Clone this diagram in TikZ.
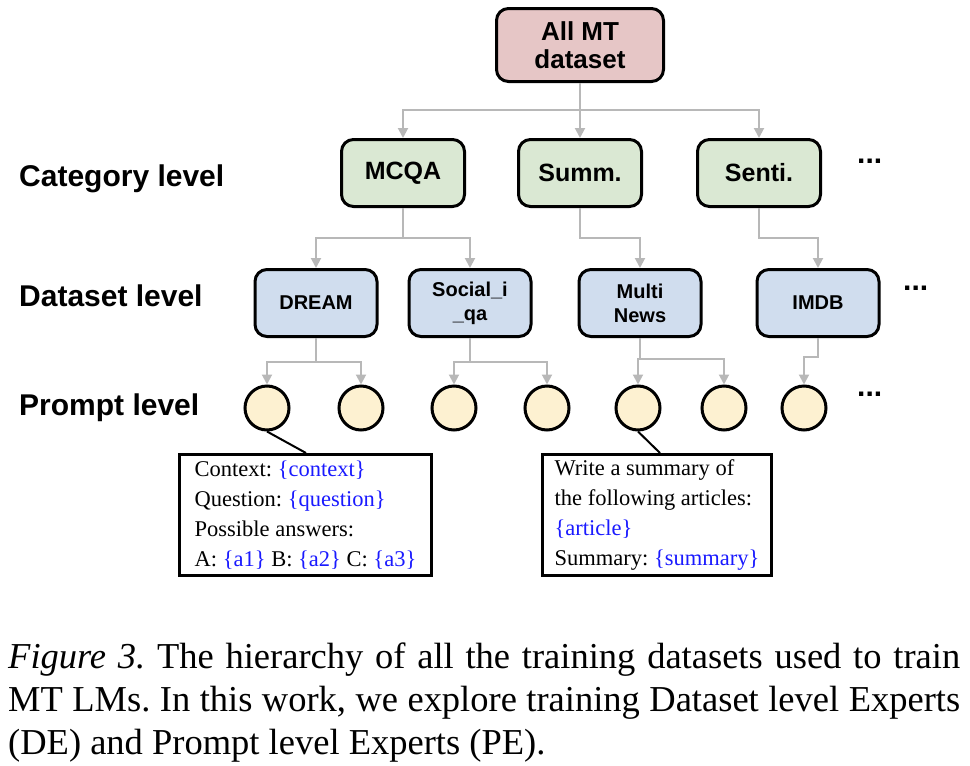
\documentclass[tikz,border=0pt]{standalone}
\usepackage{fontspec}
\setmainfont{Liberation Serif}
\setsansfont{Liberation Sans}
\usetikzlibrary{arrows.meta,calc}
\definecolor{pinkfill}{HTML}{E6C6C6}
\definecolor{greenfill}{HTML}{DAE8D3}
\definecolor{bluefill}{HTML}{D0DDEE}
\definecolor{yellowfill}{HTML}{FDF1D1}
\definecolor{connc}{HTML}{B8B8B8}
\definecolor{tblue}{HTML}{1A1AFF}
\frenchspacing
\begin{document}
\begin{tikzpicture}[x=1pt,y=-1pt,
  rootbox/.style={draw, line width=3pt, rounded corners=12pt, fill=pinkfill,
    minimum width=167pt, minimum height=73pt, align=center, inner sep=0pt,
    font=\sffamily\bfseries\fontsize{26}{28}\selectfont},
  catbox/.style={draw, line width=3pt, rounded corners=12pt, fill=greenfill,
    minimum width=123pt, minimum height=67pt, align=center, inner sep=0pt,
    font=\sffamily\bfseries\fontsize{25}{28}\selectfont},
  dsbox/.style={draw, line width=3pt, rounded corners=12pt, fill=bluefill,
    minimum width=122pt, minimum height=67pt, align=center, inner sep=0pt,
    font=\sffamily\bfseries\fontsize{20}{24}\selectfont},
  prm/.style={draw, circle, line width=3pt, fill=yellowfill, minimum size=44pt, inner sep=0pt},
  arr/.style={draw=connc, line width=2pt, -{Triangle[length=10pt,width=10pt]}},
  callout/.style={draw=black, line width=2pt},
  lvl/.style={anchor=base west, inner sep=0pt, font=\sffamily\bfseries\fontsize{30}{32}\selectfont},
  dotsty/.style={anchor=base west, inner sep=0pt, font=\sffamily\bfseries\fontsize{30}{32}\selectfont},
  tmpl/.style={draw, line width=3pt, fill=white, align=left, inner sep=0pt,
    minimum height=121pt, font=\fontsize{22.5}{30}\selectfont}
]
\useasboundingbox (0,0) rectangle (970,766);

% level labels
\node[lvl] (lcat) at (19,186) {Category level};
\node[lvl] (lds) at (19,306) {Dataset level};
\node[lvl] (lpr) at (19,415) {Prompt level};

% root
\node[rootbox] (root) at (580,45) {All MT\\dataset};

% categories
\node[catbox] (mcqa) at (403,173) {MCQA};
\node[catbox] (summ) at (580,173) {Summ.};
\node[catbox] (senti) at (759,173) {Senti.};
\node[dotsty] (dots1) at (857,163) {...};

% datasets
\node[dsbox] (dream) at (316,303) {DREAM};
\node[dsbox] (social) at (470,303) {Social\_i\\\_qa};
\node[dsbox] (multi) at (640,303) {Multi\\News};
\node[dsbox] (imdb) at (818,303) {IMDB};
\node[dotsty] (dots2) at (903,290) {...};

% prompts
\node[prm] (p1) at (267,408) {};
\node[prm] (p2) at (361,408) {};
\node[prm] (p3) at (454,408) {};
\node[prm] (p4) at (547,408) {};
\node[prm] (p5) at (638,408) {};
\node[prm] (p6) at (724,408) {};
\node[prm] (p7) at (804,408) {};
\node[dotsty] (dots3) at (857,396) {...};

% connectors root -> categories
\draw[arr] (root.south) -- ++(0,27) -| (mcqa.north);
\draw[arr] (root.south) -- (summ.north);
\draw[arr] (root.south) -- ++(0,27) -| (senti.north);

% categories -> datasets
\draw[arr] (mcqa.south) -- ++(0,30) -| (dream.north);
\draw[arr] (mcqa.south) -- ++(0,30) -| (social.north);
\draw[arr] (summ.south) -- ++(0,30) -| (multi.north);
\draw[arr] (senti.south) -- ++(0,30) -| (imdb.north);

% datasets -> prompts
\draw[arr] (dream.south) -- ++(0,24) -| (p1.north);
\draw[arr] (dream.south) -- ++(0,24) -| (p2.north);
\draw[arr] (social.south) -- ++(0,24) -| (p3.north);
\draw[arr] (social.south) -- ++(0,24) -| (p4.north);
\draw[arr] (multi.south) -- ++(0,21) -| (p5.north);
\draw[arr] (multi.south) -- ++(0,21) -| (p6.north);
\draw[arr] (imdb.south) -- ++(0,19) -| (p7.north);

% template boxes
\node[tmpl, minimum width=252pt] (lbox) at (305.5,515)
  {Context: \textcolor{tblue}{\{context\}}\\
   Question: \textcolor{tblue}{\{question\}}\\
   Possible answers:\\
   A: \textcolor{tblue}{\{a1\}} B: \textcolor{tblue}{\{a2\}} C: \textcolor{tblue}{\{a3\}}};
\node[tmpl, minimum width=229pt] (rbox) at (657,515)
  {Write a summary of\\
   the following articles:\\
   \textcolor{tblue}{\{article\}}\\
   Summary: \textcolor{tblue}{\{summary\}}};

\draw[callout] (p1.south) -- ($(lbox.north west)+(128,0)$);
\draw[callout] (p5.south) -- ($(rbox.north west)+(119,0)$);

% caption
\node[anchor=north west, text width=952pt, align=justify, inner sep=0pt,
  font=\fontsize{36.5}{43}\selectfont] (cap) at (8,643)
  {\textit{Figure 3.} The hierarchy of all the training datasets used to train\linebreak
   MT LMs. In this work, we explore training Dataset level Experts\linebreak
   (DE) and Prompt level Experts (PE).};
\end{tikzpicture}
\end{document}
